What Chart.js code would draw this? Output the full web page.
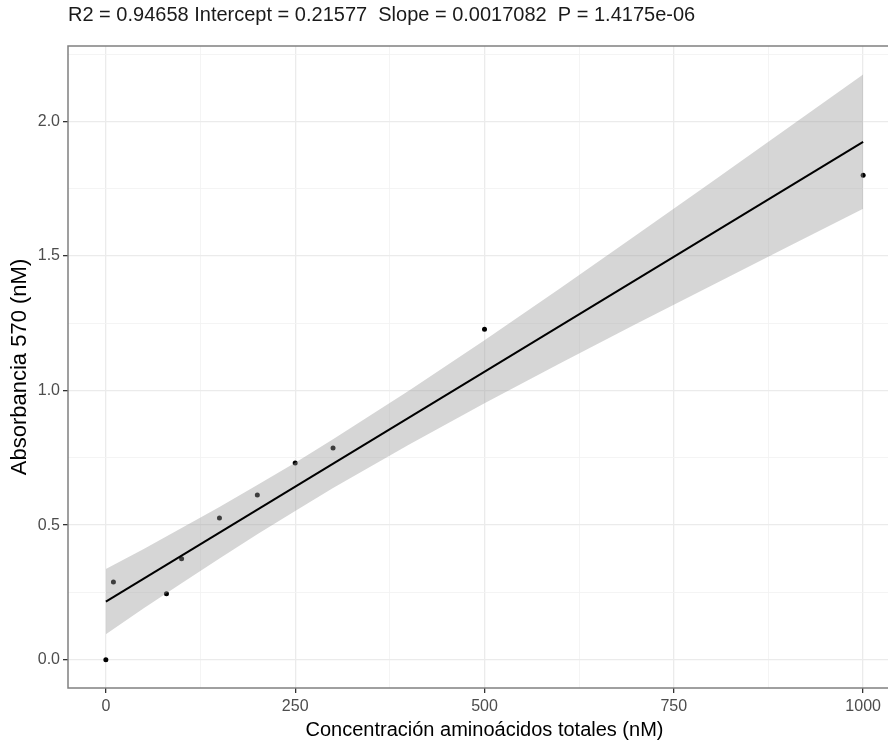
<!DOCTYPE html>
<html><head><meta charset="utf-8">
<script src="https://cdn.jsdelivr.net/npm/chart.js@4.4.0/dist/chart.umd.min.js"></script>
<style>
html,body{margin:0;padding:0;overflow:hidden;background:#fff;width:888px;height:744px}
#wrap{width:905px;height:744px}
</style></head>
<body><div id="wrap"><canvas id="c" width="905" height="744"></canvas></div>
<script>
const titleText = 'R2 = 0.94658 Intercept = 0.21577  Slope = 0.0017082  P = 1.4175e-06';
const xTitle = 'Concentración aminoácidos totales (nM)';
const yTitle = 'Absorbancia 570 (nM)';

const concX = [0, 10, 80, 100, 150, 200, 250, 300, 500, 1000];
const absY  = [0.000, 0.289, 0.245, 0.375, 0.527, 0.612, 0.731, 0.787, 1.228, 1.800];

const fitX = [0, 1000];
const fitY = [0.21577, 1.92397];

const bandX    = [0, 50, 100, 150, 200, 250, 300, 400, 500, 600, 700, 800, 900, 1000];
const bandLow  = [0.095, 0.191, 0.284, 0.376, 0.466, 0.553, 0.638, 0.799, 0.953, 1.101, 1.247, 1.390, 1.533, 1.675];
const bandHigh = [0.337, 0.411, 0.489, 0.567, 0.649, 0.732, 0.819, 0.999, 1.187, 1.380, 1.577, 1.775, 1.974, 2.174];

const xMajorTicks = [0, 250, 500, 750, 1000];
const xMinorTicks = [125, 375, 625, 875];
const xTickLabels = ['0', '250', '500', '750', '1000'];
const yMajorTicks = [0, 0.5, 1.0, 1.5, 2.0];
const yMinorTicks = [0.25, 0.75, 1.25, 1.75, 2.25];
const yTickLabels = ['0.0', '0.5', '1.0', '1.5', '2.0'];

const FONT = '"Liberation Sans", Arial, Helvetica, sans-serif';
Chart.defaults.font.family = FONT;

function majorIndex(list, v) {
  for (let i = 0; i < list.length; i++) if (Math.abs(list[i] - v) < 1e-9) return i;
  return -1;
}
const pts = (xs, ys) => xs.map((x, i) => ({x: x, y: ys[i]}));

const panelPlugin = {
  id: 'panel',
  afterDraw(chart) {
    const {ctx, chartArea: a} = chart;
    ctx.save();
    ctx.strokeStyle = '#808080';
    ctx.lineWidth = 1.5;
    ctx.strokeRect(a.left, a.top, a.right - a.left, a.bottom - a.top);
    ctx.fillStyle = '#1a1a1a';
    ctx.font = '20px ' + FONT;
    ctx.textBaseline = 'middle';
    ctx.textAlign = 'left';
    ctx.fillText(titleText, a.left, 15);
    ctx.restore();
  }
};

function gridOpts(majors) {
  return {
    color: c => majorIndex(majors, c.tick.value) >= 0 ? '#ebebeb' : '#f3f3f3',
    lineWidth: c => majorIndex(majors, c.tick.value) >= 0 ? 1.3 : 0.9,
    tickColor: c => majorIndex(majors, c.tick.value) >= 0 ? '#333333' : 'rgba(0,0,0,0)',
    tickLength: 5,
    tickWidth: 1.3,
    drawOnChartArea: true
  };
}

new Chart(document.getElementById('c'), {
  type: 'line',
  data: {
    datasets: [
      { label: 'fit', data: pts(fitX, fitY), borderColor: '#000', borderWidth: 2, pointRadius: 0, fill: false, order: 0, tension: 0 },
      { label: 'low', data: pts(bandX, bandLow), borderWidth: 0, borderColor: 'rgba(0,0,0,0)', pointRadius: 0, fill: false, order: 1 },
      { label: 'high', data: pts(bandX, bandHigh), borderWidth: 0, borderColor: 'rgba(0,0,0,0)', pointRadius: 0,
        fill: {target: 1}, backgroundColor: 'rgba(153,153,153,0.4)', order: 1 },
      { label: 'obs', data: pts(concX, absY), showLine: false, pointRadius: 2.5, pointBorderWidth: 0,
        pointBackgroundColor: '#000', borderColor: '#000', order: 2 }
    ]
  },
  options: {
    responsive: false,
    animation: false,
    devicePixelRatio: 1,
    layout: { padding: { top: 46, left: 0, right: 0, bottom: 0 } },
    plugins: { legend: { display: false }, tooltip: { enabled: false }, title: { display: false } },
    scales: {
      x: {
        type: 'linear', min: -50, max: 1050,
        afterBuildTicks: s => { s.ticks = xMajorTicks.concat(xMinorTicks).sort((a, b) => a - b).map(v => ({value: v})); },
        afterFit: s => { s.height = 56; },
        ticks: {
          autoSkip: false, maxRotation: 0, padding: 4, color: '#4d4d4d', font: { size: 16 },
          callback: v => { const i = majorIndex(xMajorTicks, v); return i >= 0 ? xTickLabels[i] : ''; }
        },
        grid: gridOpts(xMajorTicks),
        border: { display: false },
        title: { display: true, text: xTitle, color: '#000', font: { size: 20 }, padding: { top: 0, bottom: 2 } }
      },
      y: {
        type: 'linear', min: -0.105, max: 2.28,
        afterBuildTicks: s => { s.ticks = yMajorTicks.concat(yMinorTicks).sort((a, b) => a - b).map(v => ({value: v})); },
        afterFit: s => { s.width = 68; },
        ticks: {
          autoSkip: false, padding: 3, color: '#4d4d4d', font: { size: 16 },
          callback: v => { const i = majorIndex(yMajorTicks, v); return i >= 0 ? yTickLabels[i] : ''; }
        },
        grid: gridOpts(yMajorTicks),
        border: { display: false },
        title: { display: true, text: yTitle, color: '#000', font: { size: 22 }, padding: { top: 7, bottom: 0 } }
      }
    }
  },
  plugins: [panelPlugin]
});
</script>
</body></html>
